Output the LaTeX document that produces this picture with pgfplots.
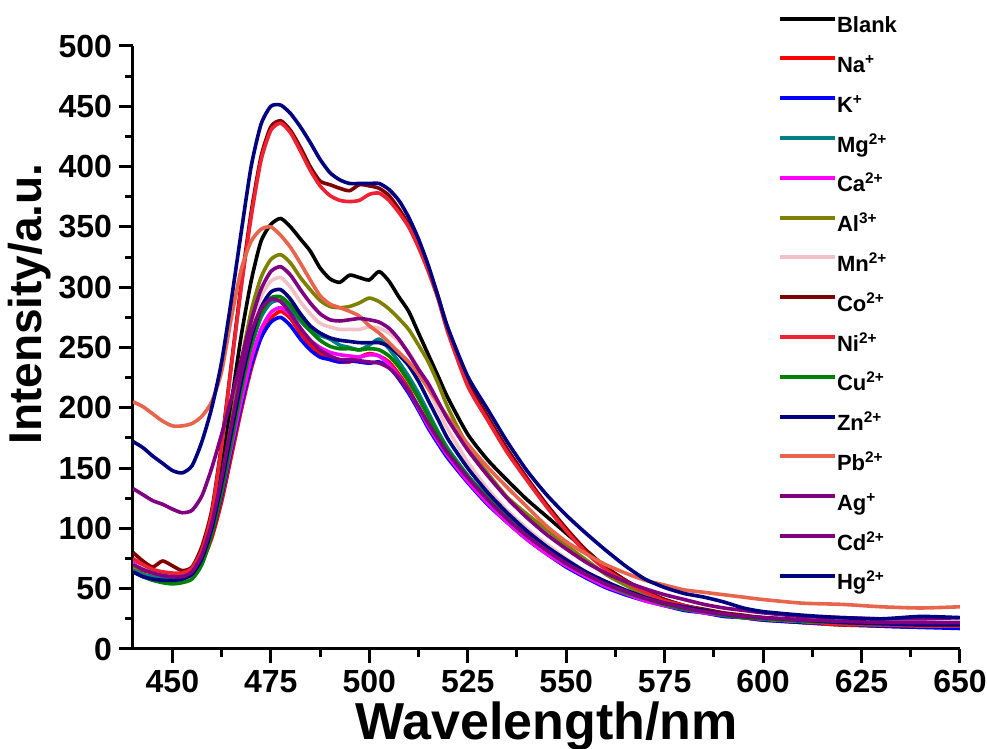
\documentclass[border=0pt]{standalone}
\usepackage{pgfplots}
\usepackage{pgfplotstable}
\pgfplotsset{compat=1.18}
\usepackage{fontspec}
\setmainfont{Liberation Sans}

\definecolor{cBlank}{HTML}{000000}
\definecolor{cNa}{HTML}{FF0000}
\definecolor{cK}{HTML}{0000FF}
\definecolor{cMg}{HTML}{008080}
\definecolor{cCa}{HTML}{FF00FF}
\definecolor{cAl}{HTML}{808000}
\definecolor{cMn}{HTML}{F2C1C8}
\definecolor{cCo}{HTML}{800000}
\definecolor{cNi}{HTML}{EE2233}
\definecolor{cCu}{HTML}{008000}
\definecolor{cZn}{HTML}{000080}
\definecolor{cPb}{HTML}{E8644C}
\definecolor{cAg}{HTML}{800080}
\definecolor{cCd}{HTML}{800080}
\definecolor{cHg}{HTML}{000080}

\pgfplotstableread{
x     blank na  k   mg  ca  al  mn  co  ni  cu  zn  pb  ag  cd  hg
440   70  68  72  66  72  68  70  80  75  64  64  205 133 70  172
442.5 66  65  68  62  68  66  67  73  70  60  60  201 128 66  167
445   64  63  64  60  65  64  64  68  66  57  58  195 123 63  160
447.5 63  60  61  58  63  62  62  73  64  55  57  189 120 61  154
450   62  57  60  57  61  61  60  69  63  54  57  185 116 60  148
452.5 62  58  60  58  61  61  60  65  63  55  58  185 113 60  146
455   66  62  64  63  65  66  64  68  67  58  62  187 115 64  152
457.5 78  72  75  76  76  78  76  85  82  70  75  193 127 78  172
460   105 92  95  100 97  102 100 115 112 95  100 205 150 104 200
462.5 150 122 127 135 130 140 136 170 168 130 137 230 178 142 238
465   205 160 165 175 168 188 180 237 235 172 180 275 208 186 290
467.5 260 198 202 215 206 238 225 303 300 215 222 315 240 228 346
470   305 232 235 250 240 280 265 362 358 252 258 338 272 262 400
472.5 338 258 258 275 265 308 292 408 405 278 283 348 298 282 435
475   352 274 271 287 279 323 305 433 430 291 296 350 313 290 450
477.5 357 280 275 289 283 327 308 438 436 292 298 343 317 288 451
480   350 274 268 282 277 320 300 430 428 285 290 333 310 278 444
482.5 340 262 257 272 266 308 288 416 413 274 278 320 298 266 433
485   330 252 248 264 256 298 278 400 397 264 268 306 287 256 420
487.5 316 245 242 260 250 289 270 388 384 256 262 293 278 248 406
490   307 240 240 257 246 284 267 385 376 251 258 286 273 243 395
492.5 304 238 238 252 244 283 265 382 372 249 256 283 272 240 389
495   310 238 239 250 243 284 265 380 371 249 255 280 273 240 386
497.5 308 242 238 248 242 287 265 385 372 248 254 276 274 239 386
500   306 245 237 252 244 291 267 384 377 249 254 268 273 238 386
502.5 313 243 238 257 243 288 266 382 378 248 254 262 271 237 386
505   305 238 234 249 236 282 262 376 372 243 251 254 266 233 381
507.5 292 228 224 238 226 274 255 365 362 234 244 246 257 225 372
510   280 216 212 226 214 265 246 352 350 222 235 238 245 214 358
512.5 262 200 198 212 200 252 232 335 333 208 222 228 232 201 340
515   244 186 183 196 185 238 215 316 313 193 206 216 220 187 318
517.5 226 172 170 180 172 220 198 292 290 178 190 204 205 174 292
520   208 160 158 166 160 200 182 265 262 164 174 192 190 162 266
525   178 140 138 144 139 168 155 222 218 143 150 170 165 142 226
530   157 122 120 126 121 146 133 193 190 125 130 151 144 124 199
535   140 106 105 110 105 126 115 166 163 108 113 134 125 108 172
540   124 92  91  95  91  112 100 142 140 94  98  118 109 94  148
545   110 80  79  83  79  99  87  120 118 82  85  102 95  82  128
550   96  69  68  72  69  86  75  100 98  71  74  89  83  71  111
555   82  60  59  62  60  74  64  82  80  62  64  79  72  62  96
560   68  52  51  54  52  62  56  68  66  54  56  70  63  54  82
565   57  46  45  47  46  53  48  57  56  47  49  63  56  48  69
570   48  41  40  42  40  45  43  48  47  42  43  57  50  42  58
575   41  36  36  37  36  39  38  41  40  37  38  53  45  38  51
580   36  33  32  34  33  35  34  36  36  33  35  49  41  34  46
585   32  30  30  31  30  31  31  33  32  31  32  47  37  31  43
590   29  28  27  29  28  29  29  30  29  28  29  45  34  29  39
595   27  26  26  27  26  27  27  28  27  26  27  43  32  27  34
600   25  24  24  25  25  25  25  26  25  25  26  41  30  26  31
610   22  22  22  23  23  23  23  24  23  23  24  38  27  24  28
620   20  20  21  22  21  21  22  22  21  22  22  37  26  23  26
630   19  20  19  21  21  20  21  21  20  21  21  35  25  22  25
640   18  19  18  21  20  20  20  20  19  21  20  34  25  22  27
650   18  19  17  20  21  19  20  19  19  20  20  35  26  22  26
}\data

\begin{document}
\begin{tikzpicture}
\begin{axis}[name=ax, scale only axis, width=413.5pt, height=301.5pt,
 xmin=440, xmax=650, ymin=0, ymax=500,
 axis x line*=bottom, axis y line*=left,
 axis line style={line width=1.5pt},
 xtick={450,475,...,650}, ytick={0,50,...,500},
 minor x tick num=1, minor y tick num=1,
 tick align=outside,
 major tick length=7pt, minor tick length=4pt,
 every tick/.style={line width=1.5pt, black},
 tick label style={font=\fontsize{16}{18}\selectfont\bfseries},
 /pgf/number format/assume math mode=true,
 xlabel={Wavelength/nm}, ylabel={Intensity/a.u.},
 xlabel style={font=\fontsize{26}{30}\selectfont\bfseries, at={(axis description cs:0.5,-0.128)}, anchor=center},
 ylabel style={font=\fontsize{23}{27}\selectfont\bfseries, at={(axis description cs:-0.1245,0.572)}, anchor=center},
 legend style={at={(axis description cs:0.78,1.052)}, anchor=north west, draw=none, fill=none, inner sep=0pt, outer sep=0pt,
   font=\fontsize{11}{13}\selectfont\bfseries, row sep=8.9pt,
   nodes={inner sep=0pt, text height=9pt, text depth=2pt, anchor=west},
   /tikz/every even column/.append style={column sep=3pt}},
 legend cell align=left,
 legend image code/.code={\draw[#1, line width=2pt] (0pt,3.5pt) -- (27.5pt,3.5pt);},
 every axis plot/.append style={line width=1.8pt, line join=round, smooth, tension=0.4},
]
\addplot[cBlank] table[x=x,y=blank]{\data};
\addlegendentry{Blank}
\addplot[cNa] table[x=x,y=na]{\data};
\addlegendentry{Na\textsuperscript{+}}
\addplot[cK] table[x=x,y=k]{\data};
\addlegendentry{K\textsuperscript{+}}
\addplot[cMg] table[x=x,y=mg]{\data};
\addlegendentry{Mg\textsuperscript{2+}}
\addplot[cCa] table[x=x,y=ca]{\data};
\addlegendentry{Ca\textsuperscript{2+}}
\addplot[cAl] table[x=x,y=al]{\data};
\addlegendentry{Al\textsuperscript{3+}}
\addplot[cMn] table[x=x,y=mn]{\data};
\addlegendentry{Mn\textsuperscript{2+}}
\addplot[cCo] table[x=x,y=co]{\data};
\addlegendentry{Co\textsuperscript{2+}}
\addplot[cNi] table[x=x,y=ni]{\data};
\addlegendentry{Ni\textsuperscript{2+}}
\addplot[cCu] table[x=x,y=cu]{\data};
\addlegendentry{Cu\textsuperscript{2+}}
\addplot[cZn] table[x=x,y=zn]{\data};
\addlegendentry{Zn\textsuperscript{2+}}
\addplot[cPb] table[x=x,y=pb]{\data};
\addlegendentry{Pb\textsuperscript{2+}}
\addplot[cAg] table[x=x,y=ag]{\data};
\addlegendentry{Ag\textsuperscript{+}}
\addplot[cCd] table[x=x,y=cd]{\data};
\addlegendentry{Cd\textsuperscript{2+}}
\addplot[cHg] table[x=x,y=hg]{\data};
\addlegendentry{Hg\textsuperscript{2+}}
\end{axis}
\pgfresetboundingbox
\path ([shift={(-66.5pt,-50pt)}]ax.south west) rectangle ([shift={(427pt,324.5pt)}]ax.south west);
\end{tikzpicture}
\end{document}
